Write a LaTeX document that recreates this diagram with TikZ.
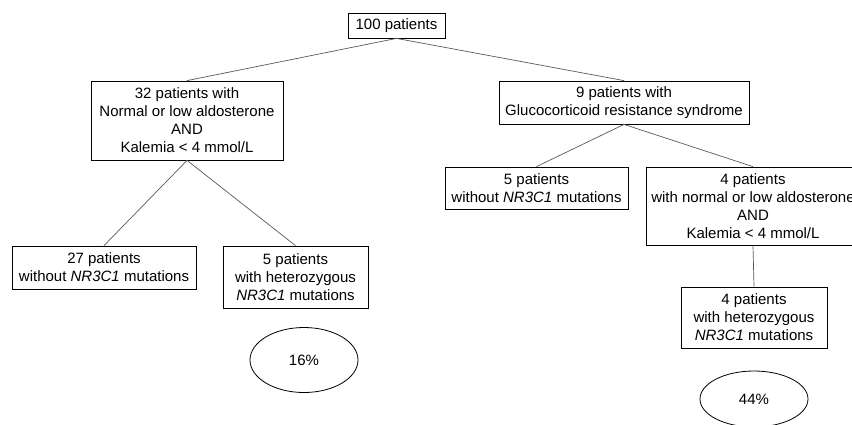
\documentclass[tikz,border=0pt]{standalone}
\usepackage{fontspec}
\setmainfont{Liberation Sans}
\usetikzlibrary{shapes.geometric}

\begin{document}
\begin{tikzpicture}[x=1pt,y=-1pt,
    group/.style ={rectangle, draw, line width=0.8pt, inner sep=0pt, align=center,
      font=\fontsize{15}{18}\selectfont},
    share/.style ={ellipse, draw, line width=0.8pt, inner sep=0pt,
      font=\fontsize{15}{18}\selectfont},
    link/.style ={draw=black!65, line width=0.7pt}]
   \useasboundingbox (0,0) rectangle (852,424);
   \node[group, minimum width=97pt, minimum height=25pt] (T) at (396.5,25.5) {100 patients};
   \node[group, minimum width=192pt, minimum height=79pt] (L) at (187,120.5)
      {32 patients with\\Normal or low aldosterone\\AND\\Kalemia < 4 mmol/L};
   \node[group, minimum width=250pt, minimum height=43pt] (R) at (624,102.5)
      {9 patients with\\Glucocorticoid resistance syndrome};
   \node[group, minimum width=184pt, minimum height=43pt] (LA) at (104,267.5)
      {27 patients\\without \textit{NR3C1} mutations};
   \node[group, minimum width=145pt, minimum height=62pt] (LB) at (295.5,277)
      {5 patients\\with heterozygous\\\textit{NR3C1} mutations};
   \node[group, minimum width=183pt, minimum height=42pt] (RA) at (536.5,188)
      {5 patients\\without \textit{NR3C1} mutations};
   \node[group, minimum width=214pt, minimum height=78pt] (RB) at (753,206)
      {4 patients\\with normal or low aldosterone\\AND\\Kalemia < 4 mmol/L};
   \node[group, minimum width=146pt, minimum height=61pt] (RC) at (754,317.5)
      {4 patients\\with heterozygous\\\textit{NR3C1} mutations};
   \node[share, minimum width=108pt, minimum height=65pt] (P1) at (304,360) {16\%};
   \node[share, minimum width=108pt, minimum height=56pt] (P2) at (754,399) {44\%};
   \draw[link] (T.south) to (L.north);
   \draw[link] (T.south) to (R.north);
   \draw[link] (L.south) to (LA.north);
   \draw[link] (L.south) to (LB.north);
   \draw[link] (R.south) to (RA.north);
   \draw[link] (R.south) to (RB.north);
   \draw[link] (RB.south) to (RC.north);
 \end{tikzpicture}
\end{document}
